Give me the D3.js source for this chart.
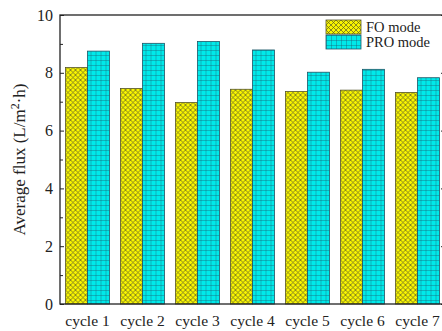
<!DOCTYPE html>
<meta charset="utf-8">
<style>
body { margin: 0; background: #fff; }
text { font-family: "Liberation Serif", "Times New Roman", serif; fill: #222; }
</style>
<body>
<script src="https://d3js.org/d3.v7.min.js"></script>
<script>

width = 442;
height = 331;
margin = ({top: 15, right: -3, bottom: 27, left: 60});

cycles = ["cycle 1", "cycle 2", "cycle 3", "cycle 4", "cycle 5", "cycle 6", "cycle 7"];
modes = ["FO mode", "PRO mode"];
foFlux = [8.18, 7.46, 6.97, 7.43, 7.35, 7.40, 7.32];
proFlux = [8.75, 9.02, 9.08, 8.79, 8.02, 8.12, 7.83];
yTicks = [0, 2, 4, 6, 8, 10];

data = cycles.map((c, i) => ({cycle: c, "FO mode": foFlux[i], "PRO mode": proFlux[i]}));

var svg = d3.select("body").append("svg")
    .attr("width", width)
    .attr("height", height)

// hatch patterns
defs = svg.append("defs")
fo = defs.append("pattern").attr("id", "fo")
    .attr("patternUnits", "userSpaceOnUse").attr("width", 5).attr("height", 5)
fo.append("rect").attr("width", 5).attr("height", 5).attr("fill", "#f8f500")
fo.append("path").attr("d", "M0,0L5,5M5,0L0,5").attr("stroke", "#5a5a2a").attr("stroke-width", 0.7)

pro = defs.append("pattern").attr("id", "pro")
    .attr("patternUnits", "userSpaceOnUse").attr("width", 5).attr("height", 5)
pro.append("rect").attr("width", 5).attr("height", 5).attr("fill", "#00eaea")
pro.append("path").attr("d", "M0,0H5M0,0V5").attr("stroke", "#1f4f66").attr("stroke-width", 0.7)

fills = d3.scaleOrdinal().domain(modes).range(["url(#fo)", "url(#pro)"])
strokes = d3.scaleOrdinal().domain(modes).range(["#55552a", "#1f5566"])

x = d3.scaleBand(cycles, [margin.left, width - margin.right])
    .paddingInner(0.2).paddingOuter(0.1)
xIn = d3.scaleBand(modes, [0, x.bandwidth()])
y = d3.scaleLinear([0, 10], [height - margin.bottom, margin.top])

// bars
svg.append("g").selectAll("g")
  .data(data)
  .join("g")
    .attr("transform", d => `translate(${x(d.cycle)},0)`)
  .selectAll("rect")
  .data(d => modes.map(m => ({mode: m, value: d[m]})))
  .join("rect")
    .attr("x", d => xIn(d.mode))
    .attr("y", d => y(d.value))
    .attr("width", xIn.bandwidth())
    .attr("height", d => y(0) - y(d.value))
    .attr("fill", d => fills(d.mode))
    .attr("stroke", d => strokes(d.mode))
    .attr("stroke-width", 0.8)

// frame
svg.append("rect")
    .attr("x", margin.left).attr("y", margin.top)
    .attr("width", width - margin.right - margin.left)
    .attr("height", y(0) - margin.top)
    .attr("fill", "none").attr("stroke", "#222").attr("stroke-width", 1.3)

minor = d3.range(1, 10, 2)

// left axis
yAxis = svg.append("g")
    .attr("transform", `translate(${margin.left},0)`)
    .call(d3.axisRight(y).tickValues(yTicks).tickSize(4).tickFormat(""))
yAxis.select(".domain").remove()
yAxis.selectAll("line").attr("stroke", "#222")
svg.append("g")
    .attr("transform", `translate(${margin.left},0)`)
    .call(d3.axisRight(y).tickValues(minor).tickSize(3).tickFormat(""))
    .call(g => g.select(".domain").remove())
    .selectAll("line").attr("stroke", "#222")

svg.append("g").selectAll("text")
  .data(yTicks)
  .join("text")
    .attr("x", margin.left - 7)
    .attr("y", d => y(d) + 5.5)
    .attr("text-anchor", "end")
    .style("font-size", "16px")
    .text(d => d)

// right axis ticks
svg.append("g")
    .attr("transform", `translate(${width - margin.right},0)`)
    .call(d3.axisLeft(y).tickValues(yTicks).tickSize(4).tickFormat(""))
    .call(g => g.select(".domain").remove())
    .selectAll("line").attr("stroke", "#222")

// x labels
svg.append("g").selectAll("text")
  .data(cycles)
  .join("text")
    .attr("x", d => x(d) + x.bandwidth() / 2)
    .attr("y", 326)
    .attr("text-anchor", "middle")
    .style("font-size", "15.5px")
    .text(d => d)

// y title
title = svg.append("text")
    .attr("transform", `translate(25,${(y(0) + y(10)) / 2}) rotate(-90)`)
    .attr("text-anchor", "middle")
    .style("font-size", "17px")
title.append("tspan").text("Average flux (L/m")
title.append("tspan").text("2").attr("dy", -6).style("font-size", "12px")
title.append("tspan").text("·h)").attr("dy", 6)

// legend
legend = svg.append("g").selectAll("g")
  .data(modes)
  .join("g")
    .attr("transform", (d, i) => `translate(326,${20 + i * 15})`)
legend.append("rect")
    .attr("width", 35).attr("height", 14)
    .attr("fill", d => fills(d))
    .attr("stroke", d => strokes(d))
    .attr("stroke-width", 0.8)
legend.append("text")
    .attr("x", 40).attr("y", 12)
    .style("font-size", "14.5px")
    .text(d => d)

</script>
